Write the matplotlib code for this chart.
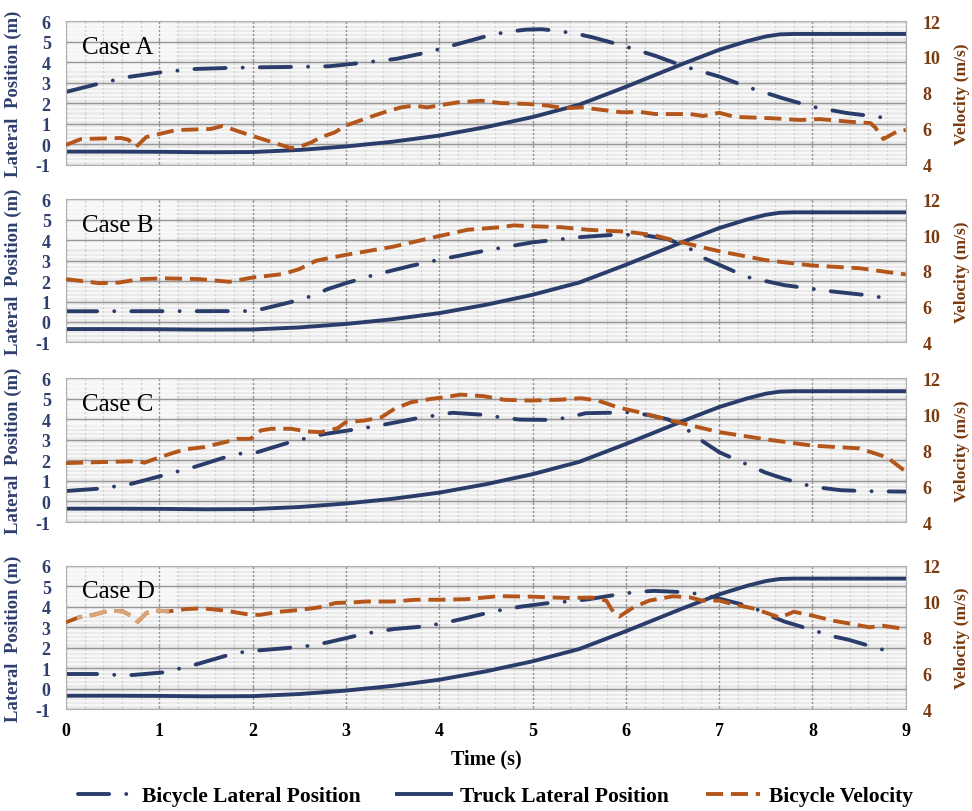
import numpy as np
import matplotlib
matplotlib.use("Agg")
import matplotlib.pyplot as plt
from matplotlib.patches import Rectangle

# ------------------------------------------------------------
# DATA
# ------------------------------------------------------------
TRUCK_T = [0, 0.5, 1, 1.5, 2, 2.5, 3, 3.5, 4, 4.5, 5, 5.5, 6, 6.3, 6.6,
           7.0, 7.3, 7.5, 7.65, 7.8, 9]
TRUCK_POS = [-0.35, -0.35, -0.36, -0.38, -0.37, -0.27, -0.1, 0.13, 0.43,
             0.84, 1.33, 1.93, 2.8, 3.35, 3.9, 4.6, 5.02, 5.25, 5.35, 5.37,
             5.37]

A_LAT_T = [0, 0.34, 0.67, 1.04, 1.39, 1.75, 2.1, 2.5, 2.82, 3.16, 3.54,
           3.88, 4.23, 4.55, 4.74, 4.93, 5.1, 5.26, 5.45, 5.64, 5.97, 6.32,
           6.62, 7.0, 7.33, 7.67, 8.0, 8.36, 8.7, 8.9]
A_LAT = [2.55, 2.94, 3.28, 3.52, 3.67, 3.72, 3.75, 3.77, 3.8, 3.96, 4.16,
         4.48, 4.92, 5.32, 5.48, 5.58, 5.6, 5.52, 5.4, 5.21, 4.8, 4.3, 3.8,
         3.3, 2.75, 2.26, 1.83, 1.53, 1.34, 1.19]
A_VEL_T = [0, 0.16, 0.59, 0.67, 0.75, 0.86, 1.18, 1.55, 1.68, 1.87, 2.2,
           2.41, 2.52, 2.63, 2.73, 2.88, 3.0, 3.2, 3.41, 3.59, 3.73, 3.87,
           4.02, 4.2, 4.45, 4.66, 4.95, 5.16, 5.34, 5.52, 5.73, 5.95, 6.16,
           6.32, 6.69, 6.83, 7.0, 7.17, 7.55, 7.87, 8.08, 8.4, 8.62, 8.67,
           8.76, 8.85, 8.92, 9.0]
A_VEL = [5.11, 5.44, 5.5, 5.4, 5.0, 5.55, 5.94, 6.0, 6.17, 5.83, 5.28, 4.94,
         5.04, 5.26, 5.54, 5.81, 6.19, 6.56, 6.93, 7.2, 7.3, 7.2, 7.33, 7.48,
         7.57, 7.44, 7.39, 7.3, 7.15, 7.2, 7.07, 6.93, 6.94, 6.83, 6.83,
         6.72, 6.9, 6.67, 6.6, 6.5, 6.55, 6.4, 6.33, 6.1, 5.44, 5.7, 5.9,
         5.94]

B_LAT_T = [0, 2.0, 2.12, 2.3, 2.46, 2.64, 2.8, 3.0, 3.3, 3.7, 4.0, 4.5, 5.0,
           5.5, 5.9, 6.2, 6.45, 6.65, 6.85, 7.1, 7.3, 7.7, 8.2, 8.6, 8.88]
B_LAT = [0.52, 0.53, 0.65, 0.85, 1.03, 1.28, 1.6, 1.9, 2.3, 2.75, 3.05, 3.5,
         3.9, 4.15, 4.28, 4.25, 4.05, 3.7, 3.1, 2.6, 2.2, 1.8, 1.5, 1.3, 1.1]
B_VEL_T = [0, 0.36, 0.57, 0.79, 1.07, 1.43, 1.75, 2.0, 2.32, 2.5, 2.68, 2.82,
           3.0, 3.5, 4.0, 4.3, 4.66, 4.8, 5.0, 5.3, 5.6, 6.0, 6.3, 6.6, 7.0,
           7.5, 8.0, 8.5, 9.0]
B_VEL = [7.54, 7.31, 7.35, 7.54, 7.58, 7.54, 7.39, 7.63, 7.82, 8.1, 8.57,
         8.72, 8.9, 9.35, 9.95, 10.3, 10.45, 10.55, 10.5, 10.45, 10.3, 10.2,
         10.0, 9.6, 9.1, 8.6, 8.3, 8.15, 7.8]

C_LAT_T = [0, 0.34, 0.52, 0.7, 1.04, 1.21, 1.39, 1.71, 1.89, 2.05, 2.38,
           2.55, 2.75, 3.07, 3.25, 3.45, 3.77, 3.96, 4.14, 4.48, 4.67, 4.86,
           5.2, 5.38, 5.57, 5.91, 6.06, 6.25, 6.45, 6.6, 6.8, 7.0, 7.25, 7.5,
           7.7, 8.0, 8.3, 8.6, 9.0]
C_LAT = [0.51, 0.62, 0.73, 0.86, 1.27, 1.48, 1.7, 2.16, 2.35, 2.4, 2.86,
         3.05, 3.27, 3.49, 3.62, 3.78, 4.06, 4.19, 4.32, 4.22, 4.09, 3.99,
         3.97, 4.09, 4.3, 4.33, 4.35, 4.2, 4.0, 3.7, 3.0, 2.4, 1.9, 1.4, 1.1,
         0.72, 0.55, 0.5, 0.48]
C_VEL_T = [0, 0.34, 0.77, 0.84, 0.98, 1.12, 1.27, 1.48, 1.7, 1.84, 1.98,
           2.09, 2.2, 2.41, 2.59, 2.73, 2.91, 3.0, 3.2, 3.38, 3.52, 3.7, 3.91,
           4.05, 4.23, 4.48, 4.7, 4.98, 5.3, 5.52, 5.7, 5.91, 6.15, 6.6, 7.0,
           7.5, 8.0, 8.5, 8.8, 9.0]
C_VEL = [7.28, 7.33, 7.39, 7.3, 7.56, 7.8, 8.04, 8.17, 8.44, 8.63, 8.63, 9.1,
         9.19, 9.19, 9.04, 9.0, 9.22, 9.56, 9.65, 9.83, 10.3, 10.67, 10.85,
         10.94, 11.09, 11.0, 10.8, 10.76, 10.81, 10.89, 10.76, 10.39, 10.1,
         9.5, 9.0, 8.6, 8.25, 8.1, 7.6, 6.8]

D_LAT_T = [0, 0.34, 0.52, 0.71, 1.05, 1.22, 1.41, 1.75, 1.92, 2.11, 2.45,
           2.63, 2.81, 3.14, 3.33, 3.52, 3.86, 4.04, 4.21, 4.54, 4.71, 4.89,
           5.23, 5.42, 5.61, 5.95, 6.12, 6.3, 6.66, 6.84, 7.02, 7.36, 7.52,
           7.7, 8.02, 8.2, 8.38, 8.72, 8.89]
D_LAT = [0.71, 0.71, 0.67, 0.66, 0.79, 0.98, 1.2, 1.65, 1.8, 1.88, 2.01, 2.1,
         2.26, 2.61, 2.78, 2.91, 3.04, 3.2, 3.36, 3.72, 3.88, 4.01, 4.21,
         4.26, 4.37, 4.62, 4.72, 4.77, 4.7, 4.57, 4.37, 3.97, 3.6, 3.27,
         2.83, 2.57, 2.39, 1.94, 1.74]
D_VEL_T = [0, 0.14, 0.29, 0.46, 0.61, 0.71, 0.77, 0.86, 0.96, 1.1, 1.29,
           1.46, 1.71, 1.93, 2.07, 2.29, 2.5, 2.71, 2.89, 3.07, 3.21, 3.5,
           3.75, 4.0, 4.29, 4.64, 5.0, 5.36, 5.64, 5.79, 5.88, 5.93, 6.08,
           6.25, 6.5, 6.68, 6.82, 7.0, 7.14, 7.36, 7.51, 7.65, 7.8, 8.0, 8.22,
           8.43, 8.61, 8.75, 9.0]
D_VEL = [8.84, 9.12, 9.25, 9.49, 9.45, 9.17, 8.87, 9.36, 9.49, 9.45, 9.58,
         9.62, 9.49, 9.3, 9.25, 9.43, 9.53, 9.67, 9.92, 9.95, 10.0, 10.0,
         10.1, 10.1, 10.13, 10.3, 10.27, 10.2, 10.22, 10.05, 9.3, 9.16, 9.67,
         10.05, 10.29, 10.24, 10.05, 10.05, 9.86, 9.62, 9.36, 9.1, 9.43, 9.21,
         8.93, 8.74, 8.56, 8.65, 8.46]

CASES = ["Case A", "Case B", "Case C", "Case D"]
X_TICKS = list(range(0, 10))
LAT_TICKS = list(range(-1, 7))
VEL_TICKS = [4, 6, 8, 10, 12]
FADED_SPAN = (0.12, 1.1)   # washed-out stretch of the case D velocity trace

# ------------------------------------------------------------
# STYLE
# ------------------------------------------------------------
NAVY = "#2a3c6a"
BROWN = "#b4561b"
FADED = "#d9a679"
LEFT_TXT = "#2f3f6e"
RIGHT_TXT = "#7a3a0f"
SERIF = ["Liberation Serif", "DejaVu Serif"]
LW = 2.8

plt.rcParams["font.family"] = SERIF

# bottom, top of every panel in figure fraction
PANELS = [(0.7956, 0.9729), (0.5772, 0.7531), (0.3559, 0.5329), (0.1256, 0.3021)]
LEFT, WIDTH = 0.0679, 0.864


def dashdot(line):
    line.set_dashes([8, 4.4, 0.01, 4.4])
    line.set_dash_capstyle("round")


def dashed(line):
    line.set_dashes([4.4, 2.0])
    line.set_dash_capstyle("butt")


def draw_panel(fig, box, name, lat_t, lat, vel_t, vel, last):
    ax = fig.add_axes([LEFT, box[0], WIDTH, box[1] - box[0]])
    ax.set_facecolor("#ebebeb")
    ax.set_xlim(0, 9)
    ax.set_ylim(-1, 6)

    # grid pattern
    ax.set_xticks(X_TICKS)
    ax.set_yticks(LAT_TICKS)
    ax.set_xticks(np.arange(0, 9.01, 0.2), minor=True)
    ax.set_yticks(np.arange(-1, 6.01, 0.2), minor=True)
    ax.grid(which="minor", axis="y", color="#f9f9f9", lw=1.3, zorder=0)
    ax.grid(which="minor", axis="x", color="#d2d2d2", lw=0.9, zorder=0)
    ax.grid(which="major", color="#979797", lw=1.0, zorder=0)
    ax.set_axisbelow(True)
    for s in ax.spines.values():
        s.set_color("#b0b0b0")

    ax.add_patch(Rectangle((0, 0.665), 0.131, 0.335, transform=ax.transAxes,
                           facecolor="white", alpha=0.55, edgecolor="none",
                           zorder=0.5))
    ax.text(0.17, 4.75, name, fontsize=18, va="center", color="black",
            zorder=5)

    l1, = ax.plot(lat_t, lat, color=NAVY, lw=LW, label="Bicycle Lateral Position")
    dashdot(l1)
    l2, = ax.plot(TRUCK_T, TRUCK_POS, color=NAVY, lw=LW,
                  label="Truck Lateral Position")

    ax.tick_params(which="both", length=0)
    ax.tick_params(axis="y", pad=11, labelsize=13, labelcolor=LEFT_TXT)
    ax.set_yticklabels([str(v) for v in LAT_TICKS], fontweight="bold")
    ax.set_ylabel("Lateral  Position (m)", fontsize=13.5, fontweight="bold",
                  color=LEFT_TXT)
    ax.yaxis.set_label_coords(-0.052, 0.5)

    if last:
        ax.tick_params(axis="x", pad=9, labelsize=13, labelcolor="black")
        ax.set_xticklabels([str(v) for v in X_TICKS], fontweight="bold")
        ax.set_xlabel("Time (s)", fontsize=14.5, fontweight="bold", labelpad=7)
    else:
        ax.set_xticklabels([])

    ax2 = ax.twinx()
    ax2.set_ylim(4, 12)
    ax2.set_yticks(VEL_TICKS)
    ax2.set_yticklabels([str(v) for v in VEL_TICKS], fontweight="bold")
    ax2.tick_params(axis="y", length=0, pad=12, labelsize=13,
                    labelcolor=RIGHT_TXT)
    for s in ax2.spines.values():
        s.set_visible(False)
    l3, = ax2.plot(vel_t, vel, color=BROWN, lw=LW, label="Bicycle Velocity")
    dashed(l3)
    ax2.set_ylabel("Velocity (m/s)", fontsize=12.5, fontweight="bold",
                   color=RIGHT_TXT)
    ax2.yaxis.set_label_coords(1.057, 0.5)
    return ax, ax2, (l1, l2, l3)


def main():
    fig = plt.figure(figsize=(9.72, 8.12), dpi=100)
    data = [
        (A_LAT_T, A_LAT, A_VEL_T, A_VEL),
        (B_LAT_T, B_LAT, B_VEL_T, B_VEL),
        (C_LAT_T, C_LAT, C_VEL_T, C_VEL),
        (D_LAT_T, D_LAT, D_VEL_T, D_VEL),
    ]
    handles = None
    for i, (box, name, d) in enumerate(zip(PANELS, CASES, data)):
        ax, ax2, lines = draw_panel(fig, box, name, *d, last=(i == 3))
        if handles is None:
            handles = lines
        if i == 3:
            # same trace redrawn in a washed-out colour, clipped to the span
            lf, = ax2.plot(D_VEL_T, D_VEL, color=FADED, lw=LW)
            dashed(lf)
            clip = Rectangle((FADED_SPAN[0], 4), FADED_SPAN[1] - FADED_SPAN[0],
                             8, transform=ax2.transData)
            lf.set_clip_path(clip)

    fig.legend(handles, [h.get_label() for h in handles], loc="center",
               bbox_to_anchor=(0.51, 0.018), ncol=3, frameon=False,
               prop=dict(family=SERIF, weight="bold", size=15.5),
               handlelength=2.5, handletextpad=0.45, columnspacing=1.7)

    fig.savefig("out.png", dpi=100)
    plt.close(fig)


if __name__ == "__main__":
    main()
